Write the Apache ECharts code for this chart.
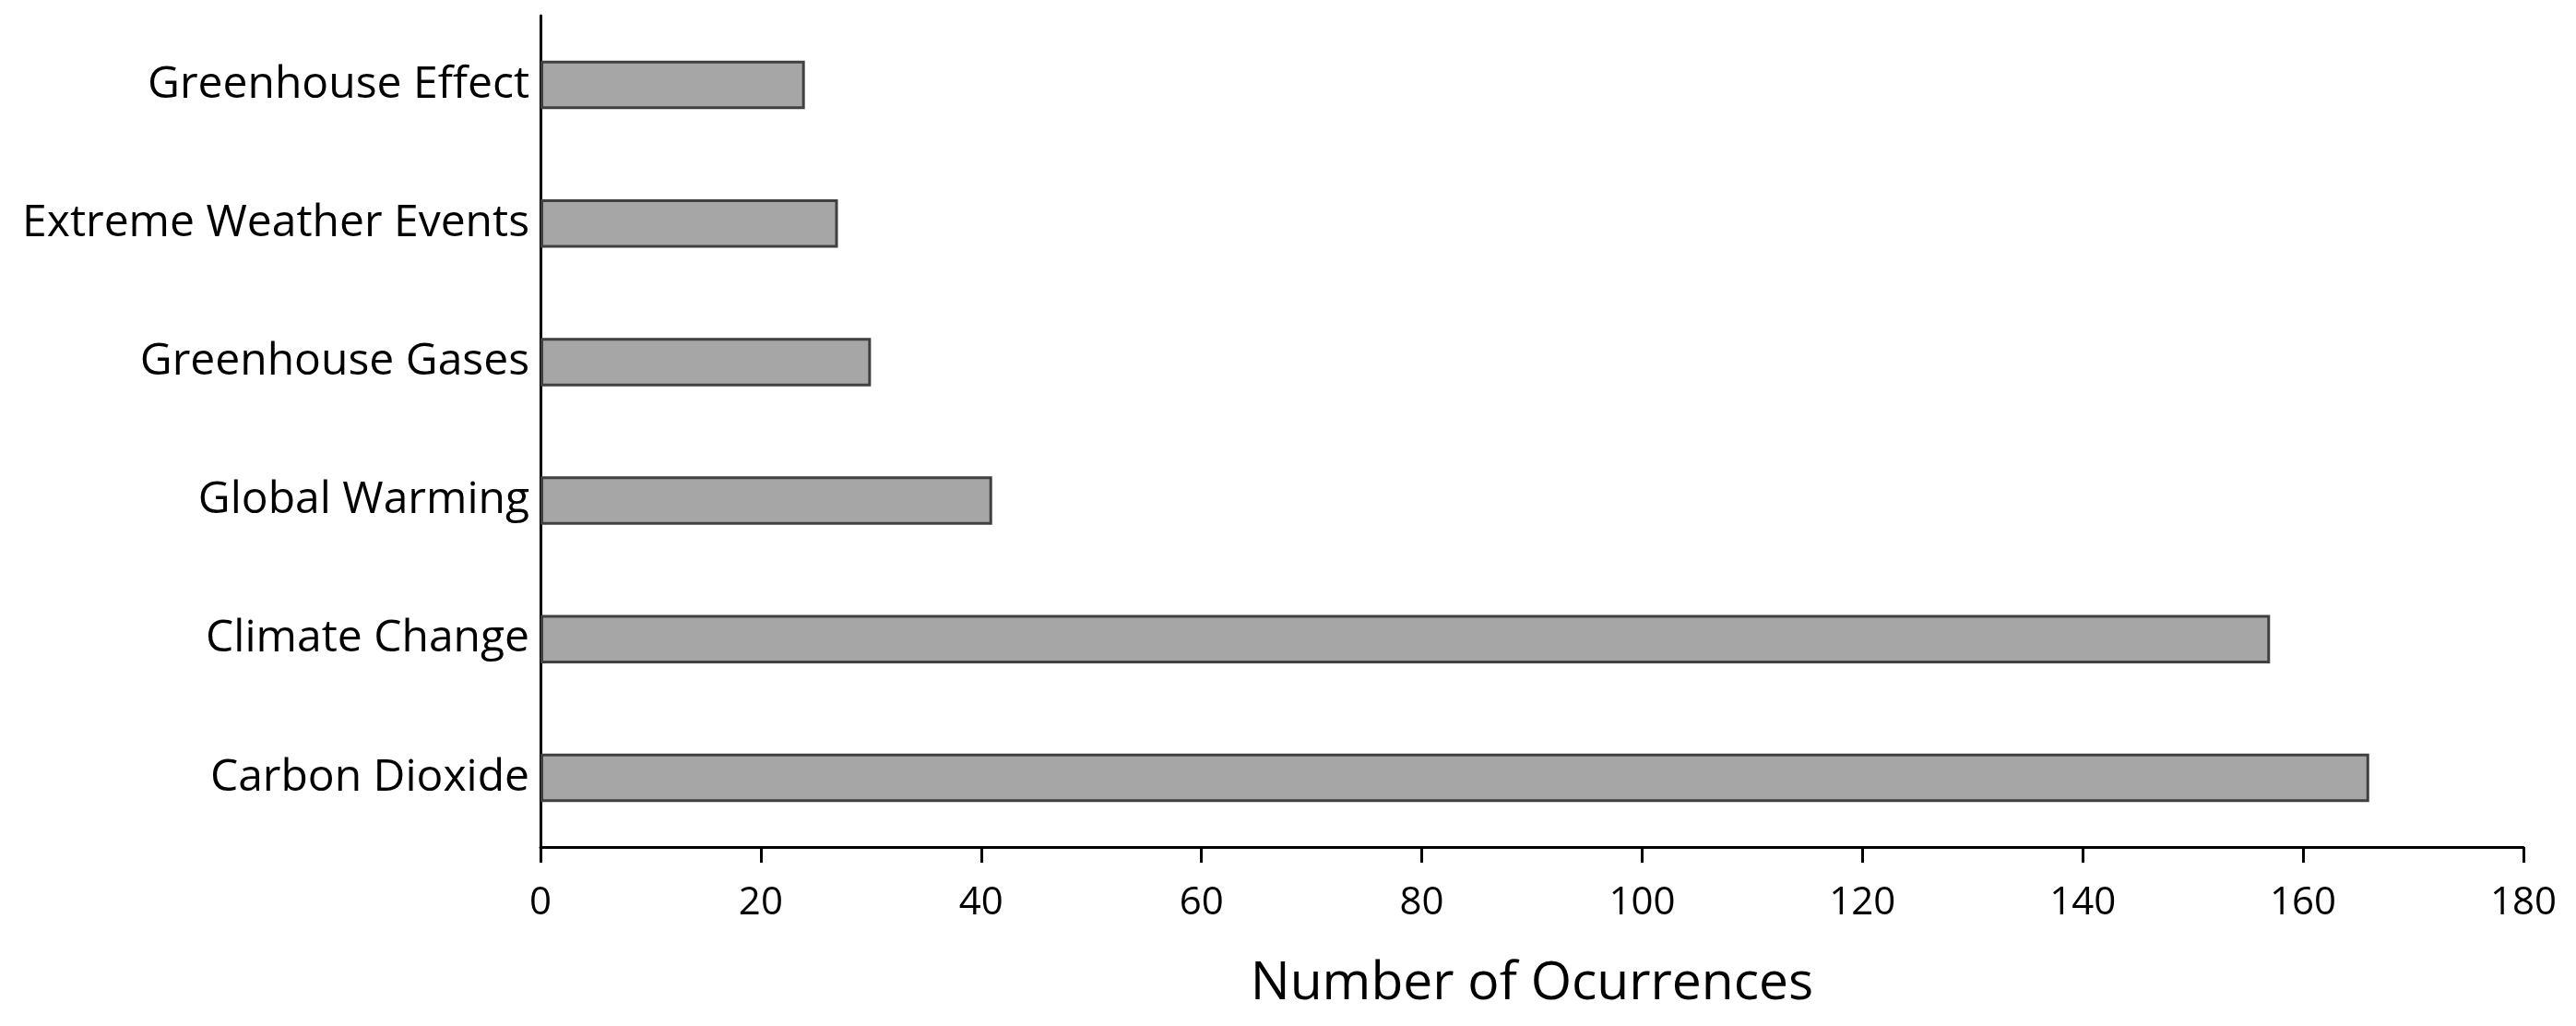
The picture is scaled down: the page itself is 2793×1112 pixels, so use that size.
<!DOCTYPE html>
<html>
<head>
<meta charset="utf-8">
<script src="https://cdn.jsdelivr.net/npm/echarts@6/dist/echarts.min.js"></script>
<style>
html,body{margin:0;padding:0;background:#fff;}
#chart{width:2793px;height:1112px;}
</style>
</head>
<body>
<div id="chart"></div>
<script>
const categories = ['Carbon Dioxide', 'Climate Change', 'Global Warming', 'Greenhouse Gases', 'Extreme Weather Events', 'Greenhouse Effect'];
const occurrences = [166, 157, 41, 30, 27, 24];
const xTicks = { min: 0, max: 180, interval: 20 };
const xTitle = 'Number of Ocurrences';

const chart = echarts.init(document.getElementById('chart'), null, { renderer: 'canvas' });
chart.setOption({
  animation: false,
  backgroundColor: '#ffffff',
  grid: { left: 586, right: 57, top: 17, bottom: 194, containLabel: false, outerBoundsMode: 'none' },
  xAxis: {
    type: 'value',
    min: xTicks.min, max: xTicks.max, interval: xTicks.interval,
    name: xTitle,
    nameLocation: 'middle',
    nameGap: 120,
    nameTextStyle: { fontFamily: 'Open Sans', fontSize: 57, color: '#000' },
    axisLine: { show: true, lineStyle: { color: '#000', width: 3 } },
    axisTick: { show: true, length: 17, lineStyle: { color: '#000', width: 3 } },
    axisLabel: { margin: 40, fontFamily: 'Open Sans', fontSize: 42, color: '#000' },
    splitLine: { show: false }
  },
  yAxis: {
    type: 'category',
    data: categories,
    axisLine: { show: true, lineStyle: { color: '#000', width: 3 } },
    axisTick: { show: false },
    axisLabel: { margin: 12, fontFamily: 'Open Sans', fontSize: 48, color: '#000' },
    splitLine: { show: false }
  },
  series: [{
    type: 'bar',
    data: occurrences,
    barWidth: '35%',
    itemStyle: { color: '#a6a6a6', borderColor: '#404040', borderWidth: 3 }
  }]
});
</script>
</body>
</html>
